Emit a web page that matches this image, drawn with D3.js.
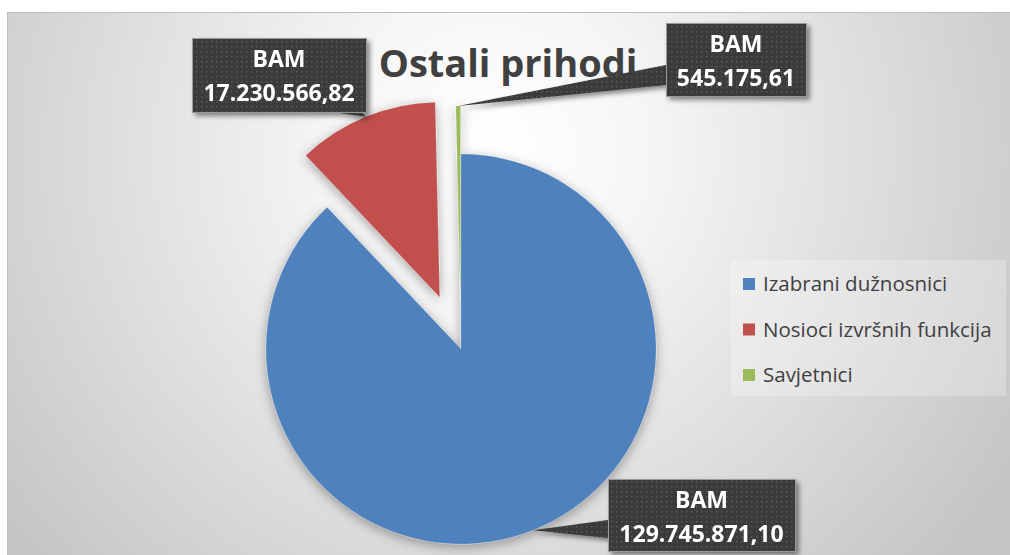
<!DOCTYPE html>
<html>
<head>
<meta charset="utf-8">
<script src="https://cdn.jsdelivr.net/npm/d3@7"></script>
<style>
  body { margin: 0; background: #fff; }
  svg { display: block; font-family: "Open Sans", Lato, sans-serif; }
</style>
</head>
<body>
<div id="chart"></div>
<script>
// data
var categories = ["Izabrani dužnosnici", "Nosioci izvršnih funkcija", "Savjetnici"];
var values = [129745871.10, 17230566.82, 545175.61];
var valueLabels = ["129.745.871,10", "17.230.566,82", "545.175,61"];
var colors = ["#4f81bd", "#c0504d", "#9bbb59"];

var w = 1010, h = 555;
var cx = 461, cy = 349, r = 195;
var explode = [0, 56, 48];
// label boxes (x, y, width, height) and where the tail meets the box
var boxes = [
  { x: 608, y: 479, w: 187, h: 72, tail: [[608, 520], [608, 538]] },
  { x: 192, y: 38, w: 174, h: 74, tail: [[332, 112], [362, 112]] },
  { x: 666, y: 23, w: 140, h: 73, tail: [[666, 65], [666, 85]] }
];

var svg = d3.select("#chart").append("svg")
  .attr("width", w)
  .attr("height", h);

var defs = svg.append("defs");

var bg = defs.append("radialGradient")
  .attr("id", "bg")
  .attr("gradientUnits", "userSpaceOnUse")
  .attr("cx", 490).attr("cy", 150).attr("r", 620);
bg.append("stop").attr("offset", "0%").attr("stop-color", "#ffffff");
bg.append("stop").attr("offset", "25%").attr("stop-color", "#f6f6f6");
bg.append("stop").attr("offset", "100%").attr("stop-color", "#c4c4c4");

var pat = defs.append("pattern")
  .attr("id", "dots")
  .attr("patternUnits", "userSpaceOnUse")
  .attr("width", 5).attr("height", 5);
pat.append("rect").attr("width", 5).attr("height", 5).attr("fill", "#3a3a3a");
pat.append("rect").attr("x", 1).attr("y", 1).attr("width", 1.5).attr("height", 1.5).attr("fill", "#5a5a5a");

var sh = defs.append("filter").attr("id", "pieShadow")
  .attr("x", "-20%").attr("y", "-20%").attr("width", "140%").attr("height", "140%");
sh.append("feDropShadow").attr("dx", 0).attr("dy", 3).attr("stdDeviation", 6)
  .attr("flood-color", "#000").attr("flood-opacity", 0.35);

var bsh = defs.append("filter").attr("id", "boxShadow")
  .attr("x", "-20%").attr("y", "-20%").attr("width", "140%").attr("height", "150%");
bsh.append("feDropShadow").attr("dx", 3).attr("dy", 3).attr("stdDeviation", 2.5)
  .attr("flood-color", "#000").attr("flood-opacity", 0.45);

// chart area
svg.append("rect")
  .attr("x", 7.5).attr("y", 12.5)
  .attr("width", w + 10).attr("height", h + 10)
  .attr("fill", "url(#bg)")
  .attr("stroke", "#bdbdbd");

// title
svg.append("text")
  .attr("x", 508).attr("y", 77)
  .attr("text-anchor", "middle")
  .attr("font-size", 38)
  .attr("font-weight", "bold")
  .attr("fill", "#404040")
  .text("Ostali prihodi");

// pie
var pie = d3.pie().sort(null).value(function (d) { return d; });
var arcs = pie(values);
var arc = d3.arc().innerRadius(0).outerRadius(r);

function offset(d, i) {
  var a = (d.startAngle + d.endAngle) / 2;
  return [cx + explode[i] * Math.sin(a), cy - explode[i] * Math.cos(a)];
}

var slices = svg.append("g").attr("filter", "url(#pieShadow)");
slices.selectAll("path")
  .data(arcs)
  .enter()
  .append("path")
  .attr("transform", function (d, i) { var o = offset(d, i); return "translate(" + o[0] + "," + o[1] + ")"; })
  .attr("d", arc)
  .attr("fill", function (d, i) { return colors[i]; })
  .attr("stroke", "#ffffff")
  .attr("stroke-opacity", 0.3)
  .attr("stroke-width", 0.5);

// data labels with callouts
var labels = svg.append("g").attr("filter", "url(#boxShadow)");
arcs.forEach(function (d, i) {
  var o = offset(d, i);
  var a = (d.startAngle + d.endAngle) / 2;
  var tip = [o[0] + r * Math.sin(a), o[1] - r * Math.cos(a)];
  var b = boxes[i];
  var g = labels.append("g");
  g.append("path")
    .attr("d", "M" + b.tail[0] + "L" + tip + "L" + b.tail[1] + "Z")
    .attr("fill", "url(#dots)");
  g.append("rect")
    .attr("x", b.x + 0.5).attr("y", b.y + 0.5)
    .attr("width", b.w).attr("height", b.h)
    .attr("fill", "url(#dots)")
    .attr("stroke", "#9a9a9a")
    .attr("stroke-width", 1);
  var t = g.append("text")
    .attr("text-anchor", "middle")
    .attr("font-size", 23)
    .attr("font-weight", "bold")
    .attr("fill", "#ffffff");
  t.append("tspan").attr("x", b.x + b.w / 2).attr("y", b.y + 29).text("BAM");
  t.append("tspan").attr("x", b.x + b.w / 2).attr("y", b.y + 63).text(valueLabels[i]);
});

// legend
var legend = svg.append("g");
legend.append("rect")
  .attr("x", 731).attr("y", 260)
  .attr("width", 275).attr("height", 136)
  .attr("fill", "#ffffff").attr("fill-opacity", 0.25);
var items = legend.selectAll("g.item")
  .data(categories)
  .enter()
  .append("g")
  .attr("class", "item")
  .attr("transform", function (d, i) { return "translate(743," + (284 + i * 45.5) + ")"; });
items.append("rect")
  .attr("x", 0).attr("y", -6)
  .attr("width", 12).attr("height", 12)
  .attr("fill", function (d, i) { return colors[i]; });
items.append("text")
  .attr("x", 20).attr("y", 7)
  .attr("font-size", 20.5)
  .attr("fill", "#404040")
  .text(function (d) { return d; });
</script>
</body>
</html>
